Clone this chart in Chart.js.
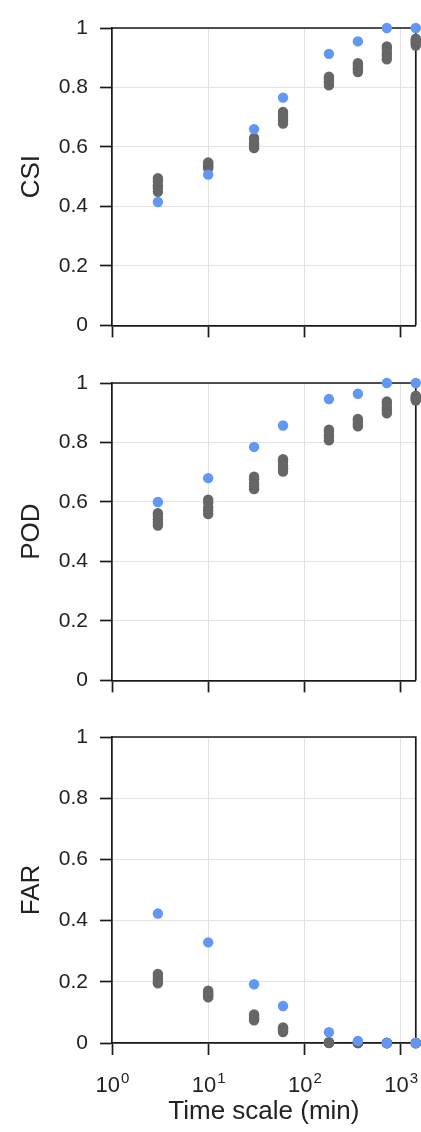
<!DOCTYPE html>
<html><head><meta charset="utf-8">
<script src="https://cdn.jsdelivr.net/npm/chart.js@4.4.1/dist/chart.umd.min.js"></script>
<style>
html,body{margin:0;padding:0;background:#fff;}
#wrap{position:relative;width:421px;height:1132px;overflow:hidden;}
canvas{position:absolute;left:0;}
</style></head><body>
<div id="wrap">
<canvas id="c1" width="421" height="350" style="top:0px"></canvas>
<canvas id="c2" width="421" height="350" style="top:355px"></canvas>
<canvas id="c3" width="421" height="423" style="top:709px"></canvas>
</div>
<script>
// ---- data ----
const timeScales = [3, 10, 30, 60, 180, 360, 720, 1440];
const xTickValues = [1, 10, 100, 1000];
const xTickExponents = ['0', '1', '2', '3'];
const yTickStep = 0.2;

const csiBlue = [0.415, 0.507, 0.660, 0.766, 0.913, 0.955, 1.000, 1.000];
const csiGray = [
  [0.449, 0.462, 0.471, 0.485, 0.495],
  [0.528, 0.534, 0.537, 0.544, 0.548],
  [0.596, 0.605, 0.612, 0.623, 0.630],
  [0.679, 0.691, 0.698, 0.709, 0.718],
  [0.807, 0.815, 0.820, 0.830, 0.836],
  [0.852, 0.861, 0.866, 0.875, 0.882],
  [0.895, 0.907, 0.916, 0.929, 0.938],
  [0.941, 0.948, 0.952, 0.959, 0.964]
];
const podBlue = [0.600, 0.680, 0.785, 0.857, 0.946, 0.964, 1.000, 1.000];
const podGray = [
  [0.521, 0.532, 0.541, 0.553, 0.562],
  [0.559, 0.571, 0.582, 0.597, 0.608],
  [0.643, 0.653, 0.662, 0.676, 0.685],
  [0.702, 0.713, 0.722, 0.735, 0.744],
  [0.807, 0.816, 0.824, 0.836, 0.843],
  [0.854, 0.860, 0.866, 0.873, 0.879],
  [0.898, 0.908, 0.917, 0.929, 0.938],
  [0.941, 0.945, 0.949, 0.954, 0.957]
];
const farBlue = [0.423, 0.329, 0.192, 0.121, 0.035, 0.007, 0.000, 0.000];
const farGray = [
  [0.195, 0.203, 0.209, 0.219, 0.226],
  [0.149, 0.155, 0.159, 0.166, 0.171],
  [0.074, 0.079, 0.083, 0.089, 0.093],
  [0.036, 0.040, 0.043, 0.048, 0.051],
  [0.000, 0.001, 0.001, 0.002, 0.003],
  [0.000, 0.000, 0.001, 0.001, 0.002],
  [0.000, 0.000, 0.000, 0.000, 0.000],
  [0.000, 0.000, 0.000, 0.000, 0.000]
];

// ---- styling ----
const FONT = "'Liberation Sans', Arial, Helvetica, sans-serif";
const BLUE = '#6197f7';
const GRAY = '#666666';
const GRID = '#e2e2e2';
const AXIS = '#1a1a1a';
const TEXT = '#222222';

const framePlugin = {
  id: 'frame',
  beforeDatasetsDraw(chart) {
    const {ctx, chartArea: a} = chart;
    ctx.save();
    ctx.strokeStyle = AXIS;
    ctx.lineWidth = 1.7;
    ctx.beginPath();
    ctx.moveTo(a.left, a.top);
    ctx.lineTo(a.right, a.top);
    ctx.lineTo(a.right, a.bottom);
    ctx.stroke();
    ctx.restore();
  }
};

const xLabelPlugin = {
  id: 'xlabels',
  afterDraw(chart) {
    if (!chart.options.plugins.xlabels || !chart.options.plugins.xlabels.show) return;
    const {ctx, chartArea: a} = chart;
    const xs = chart.scales.x;
    ctx.save();
    ctx.fillStyle = TEXT;
    ctx.textBaseline = 'alphabetic';
    ctx.textAlign = 'left';
    xTickValues.forEach((v, i) => {
      const px = xs.getPixelForValue(v);
      ctx.font = '22px ' + FONT;
      const w1 = ctx.measureText('10').width;
      ctx.font = '15px ' + FONT;
      const w2 = ctx.measureText(xTickExponents[i]).width;
      const start = px - (w1 + w2) / 2;
      ctx.font = '22px ' + FONT;
      ctx.fillText('10', start, a.bottom + 49);
      ctx.font = '15px ' + FONT;
      ctx.fillText(xTickExponents[i], start + w1 + 1, a.bottom + 40);
    });
    ctx.restore();
  }
};

function points(rows) {
  return rows.flatMap((vals, i) => vals.map(v => ({x: timeScales[i], y: v})));
}

function makePanel(id, label, grayRows, blueVals, plotTop, plotHeight, canvasHeight, isBottom) {
  const xAxisHeight = canvasHeight - plotTop - plotHeight;
  new Chart(document.getElementById(id), {
    type: 'scatter',
    data: {
      datasets: [
        {
          data: points(grayRows),
          order: 2,
          backgroundColor: GRAY,
          pointBackgroundColor: GRAY,
          pointBorderWidth: 0,
          pointRadius: 5.2,
          pointHoverRadius: 5.2,
          clip: false
        },
        {
          data: blueVals.map((v, i) => ({x: timeScales[i], y: v})),
          order: 1,
          backgroundColor: BLUE,
          pointBackgroundColor: BLUE,
          pointBorderWidth: 0,
          pointRadius: 5.2,
          pointHoverRadius: 5.2,
          clip: false
        }
      ]
    },
    options: {
      responsive: false,
      animation: false,
      events: [],
      layout: {padding: {top: plotTop, right: 5, left: 0, bottom: 0}},
      plugins: {
        legend: {display: false},
        tooltip: {enabled: false},
        xlabels: {show: isBottom}
      },
      scales: {
        x: {
          type: 'logarithmic',
          min: 1,
          max: 1440,
          afterBuildTicks: s => { s.ticks = xTickValues.map(v => ({value: v})); },
          afterFit: s => { s.height = xAxisHeight; },
          ticks: {display: false},
          grid: {color: GRID, lineWidth: 1, drawTicks: true, tickLength: 12, tickColor: AXIS, tickWidth: 1.7},
          border: {display: true, color: AXIS, width: 1.7},
          title: {
            display: isBottom,
            text: 'Time scale (min)',
            color: TEXT,
            font: {family: FONT, size: 26},
            padding: {top: 0, bottom: 5}
          }
        },
        y: {
          min: 0,
          max: 1,
          afterFit: s => { s.width = 112; },
          ticks: {
            stepSize: yTickStep,
            color: TEXT,
            font: {family: FONT, size: 21},
            padding: 12,
            callback: v => String(Math.round(v * 10) / 10)
          },
          grid: {color: GRID, lineWidth: 1, drawTicks: true, tickLength: 12, tickColor: AXIS, tickWidth: 1.7},
          border: {display: true, color: AXIS, width: 1.7},
          title: {
            display: true,
            text: label,
            color: TEXT,
            font: {family: FONT, size: 26},
            padding: {top: 16, bottom: 0}
          }
        }
      }
    },
    plugins: [framePlugin, xLabelPlugin]
  });
}

makePanel('c1', 'CSI', csiGray, csiBlue, 28, 305, 350, false);
makePanel('c2', 'POD', podGray, podBlue, 28, 306, 350, false);
makePanel('c3', 'FAR', farGray, farBlue, 28, 306, 423, true);
</script>
</body></html>
